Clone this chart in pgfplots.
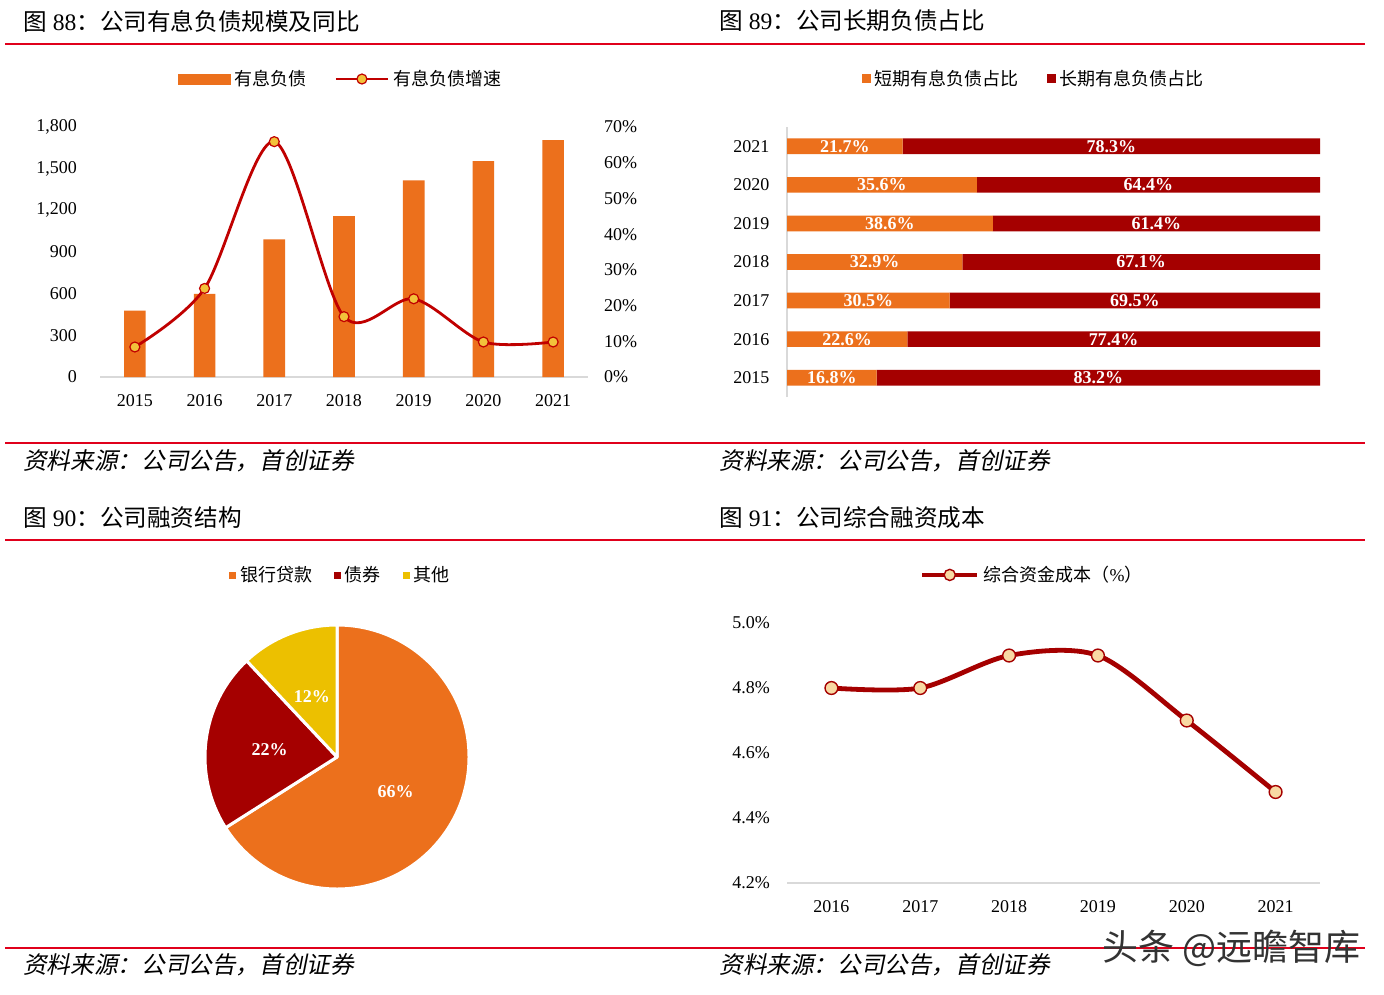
\documentclass[border=0pt]{standalone}
\usepackage{pgfplots}
\pgfplotsset{compat=1.18}
\usepackage{fontspec}
\setmainfont{Liberation Serif}
\newfontfamily\cjk{Noto Sans CJK SC}
\newfontfamily\cjkit[FakeSlant=0.2]{Noto Sans CJK SC}
\definecolor{myorange}{HTML}{EC701C}
\definecolor{mydark}{HTML}{A50000}
\definecolor{linered}{HTML}{C00000}
\definecolor{gold}{HTML}{F2C23A}
\definecolor{pieyellow}{HTML}{ECC000}
\definecolor{cream}{HTML}{F8D9A3}
\definecolor{rulered}{HTML}{E0001B}
\definecolor{axisgray}{HTML}{D9D9D9}
\newcommand{\tickfont}{\fontsize{9}{10}\selectfont}
\newcommand{\legfont}{\cjk\fontsize{9}{10}\selectfont}
\begin{document}
\begin{tikzpicture}
\begin{scope}[x=0.5pt,y=-0.5pt]
\fill[white] (0,0) rectangle (1384,994);
\path[use as bounding box] (0,0) rectangle (1384,994);
\foreach \yy in {44,443,540,948} {\draw[rulered, line width=1pt] (5,\yy) -- (1365,\yy);}
\node[anchor=west, inner sep=0pt, font=\fontsize{11.8}{12}\selectfont] at (23,21) {{\cjk 图} 88{\cjk ：公司有息负债规模及同比}};
\node[anchor=west, inner sep=0pt, font=\fontsize{11.8}{12}\selectfont] at (719,21) {{\cjk 图} 89{\cjk ：公司长期负债占比}};
\node[anchor=west, inner sep=0pt, font=\fontsize{11.8}{12}\selectfont] at (23,518) {{\cjk 图} 90{\cjk ：公司融资结构}};
\node[anchor=west, inner sep=0pt, font=\fontsize{11.8}{12}\selectfont] at (719,518) {{\cjk 图} 91{\cjk ：公司综合融资成本}};
\node[anchor=west, inner sep=0pt, font=\cjkit\fontsize{11.8}{12}\selectfont] at (23,461) {资料来源：公司公告，首创证券};
\node[anchor=west, inner sep=0pt, font=\cjkit\fontsize{11.8}{12}\selectfont] at (719,461) {资料来源：公司公告，首创证券};
\node[anchor=west, inner sep=0pt, font=\cjkit\fontsize{11.8}{12}\selectfont] at (23,965) {资料来源：公司公告，首创证券};
\node[anchor=west, inner sep=0pt, font=\cjkit\fontsize{11.8}{12}\selectfont] at (719,965) {资料来源：公司公告，首创证券};
\end{scope}

% ---------- Panel 1: bars ----------
\begin{axis}[
  at={(50pt,-188.5pt)}, anchor=south west,
  scale only axis, width=244pt, height=125pt,
  xmin=-0.5, xmax=6.5, ymin=0, ymax=1800,
  ytick={0,300,600,900,1200,1500,1800},
  xtick={0,1,2,3,4,5,6}, xticklabels={2015,2016,2017,2018,2019,2020,2021},
  axis x line*=bottom, axis y line*=left,
  x axis line style={draw=axisgray, line width=1pt, -},
  y axis line style={draw=none},
  major tick length=0pt,
  tick label style={font=\tickfont},
  /pgf/number format/assume math mode=true,
  /pgf/number format/1000 sep={,},
  yticklabel style={xshift=-8pt},
  xticklabel style={yshift=-5pt},
  ybar, bar width=10.8pt,
]
\addplot[fill=myorange, draw=none] coordinates {(0,478) (1,598) (2,991) (3,1159) (4,1416) (5,1555) (6,1706)};
\end{axis}
\begin{axis}[
  at={(50pt,-188.5pt)}, anchor=south west,
  scale only axis, width=244pt, height=125pt,
  xmin=-0.5, xmax=6.5, ymin=0, ymax=70,
  axis y line*=right, axis x line=none,
  y axis line style={draw=none},
  major tick length=0pt, xtick=\empty,
  ytick={0,10,20,30,40,50,60,70},
  yticklabel={\pgfmathprintnumber{\tick}\%},
  tick label style={font=\tickfont},
  /pgf/number format/assume math mode=true,
  yticklabel style={xshift=4.5pt},
  clip=false,
  legend style={at={(0.495,1.192)}, anchor=center, draw=none, fill=none, legend columns=-1, font=\legfont,
    /tikz/every even column/.append style={column sep=12pt}},
]
\addlegendimage{legend image code/.code={\fill[myorange] (0pt,-2.5pt) rectangle (26pt,2.5pt);}}
\addlegendentry{有息负债}
\addplot[linered, line width=1.4pt, smooth, mark=*, mark size=2.5pt,
  mark options={fill=gold, draw=linered, line width=0.6pt},
  legend image code/.code={\draw[linered, line width=1.4pt] (0pt,0pt) -- (26pt,0pt);
     \filldraw[fill=gold, draw=linered, line width=0.6pt] (13pt,0pt) circle (2.5pt);}]
  coordinates {(0,8.4) (1,24.8) (2,65.9) (3,16.9) (4,21.9) (5,9.8) (6,9.8)};
\addlegendentry{有息负债增速}
\end{axis}

% ---------- Panel 2: stacked horizontal bars ----------
\begin{axis}[
  at={(393.5pt,-198.5pt)}, anchor=south west,
  scale only axis, width=266.5pt, height=135pt,
  xbar stacked, bar width=7.85pt,
  xmin=0, xmax=100, ymin=-0.5, ymax=6.5,
  axis y line*=left, axis x line=none,
  y axis line style={draw=axisgray, line width=1pt, -},
  ytick={0,1,2,3,4,5,6}, yticklabels={2015,2016,2017,2018,2019,2020,2021},
  xtick=\empty,
  major tick length=0pt,
  tick label style={font=\tickfont},
  yticklabel style={xshift=-5.25pt},
  /pgf/number format/assume math mode=true,
  visualization depends on={rawx \as \rawx},
  nodes near coords={\pgfmathprintnumber[fixed,fixed zerofill,precision=1]{\rawx}\%},
  every node near coord/.append style={anchor=center, text=white, font=\bfseries\fontsize{9}{10}\selectfont},
  legend image code/.code={\fill[#1] (0pt,-2.25pt) rectangle (4.5pt,2.25pt);},
  legend style={at={(0.465,1.178)}, anchor=center, draw=none, fill=none, legend columns=-1, font=\legfont,
    /tikz/every even column/.append style={column sep=12pt}},
]
\addplot[fill=myorange, draw=none] coordinates {(16.8,0) (22.6,1) (30.5,2) (32.9,3) (38.6,4) (35.6,5) (21.7,6)};
\addlegendentry{短期有息负债占比}
\addplot[fill=mydark, draw=none] coordinates {(83.2,0) (77.4,1) (69.5,2) (67.1,3) (61.4,4) (64.4,5) (78.3,6)};
\addlegendentry{长期有息负债占比}
\end{axis}

% ---------- Panel 3: pie ----------
\begin{axis}[
  at={(168.5pt,-378.5pt)}, anchor=center,
  scale only axis, width=132pt, height=132pt,
  xmin=-1, xmax=1, ymin=-1, ymax=1,
  hide axis, clip=false,
  legend style={at={(0.517,1.189)}, anchor=center, draw=none, fill=none, legend columns=-1, font=\legfont,
    /tikz/every even column/.append style={column sep=9pt}},
]
\addlegendimage{legend image code/.code={\fill[myorange] (0pt,-1.5pt) rectangle (3pt,1.5pt);}}
\addlegendentry{银行贷款}
\addlegendimage{legend image code/.code={\fill[mydark] (0pt,-1.5pt) rectangle (3pt,1.5pt);}}
\addlegendentry{债券}
\addlegendimage{legend image code/.code={\fill[pieyellow] (0pt,-1.5pt) rectangle (3pt,1.5pt);}}
\addlegendentry{其他}
\filldraw[fill=myorange, draw=white, line width=1.5pt, line join=round] (axis cs:0,0) -- ++(90:66pt) arc[start angle=90, delta angle={-66*3.6}, radius=66pt] -- cycle;
\filldraw[fill=mydark, draw=white, line width=1.5pt, line join=round] (axis cs:0,0) -- ++({90-66*3.6}:66pt) arc[start angle={90-66*3.6}, delta angle={-22*3.6}, radius=66pt] -- cycle;
\filldraw[fill=pieyellow, draw=white, line width=1.5pt, line join=round] (axis cs:0,0) -- ++({90-88*3.6}:66pt) arc[start angle={90-88*3.6}, delta angle={-12*3.6}, radius=66pt] -- cycle;
\node[text=white, font=\bfseries\fontsize{9}{10}\selectfont] at (axis cs:0.445,-0.262) {66\%};
\node[text=white, font=\bfseries\fontsize{9}{10}\selectfont] at (axis cs:-0.51,0.053) {22\%};
\node[text=white, font=\bfseries\fontsize{9}{10}\selectfont] at (axis cs:-0.19,0.457) {12\%};
\end{axis}

% ---------- Panel 4: line ----------
\begin{axis}[
  at={(393.5pt,-441.5pt)}, anchor=south west,
  scale only axis, width=266.5pt, height=130pt,
  xmin=-0.5, xmax=5.5, ymin=4.2, ymax=5.0,
  ytick={4.2,4.4,4.6,4.8,5.0},
  yticklabel={\pgfmathprintnumber[fixed,fixed zerofill,precision=1]{\tick}\%},
  xtick={0,1,2,3,4,5}, xticklabels={2016,2017,2018,2019,2020,2021},
  axis x line*=bottom, axis y line*=left,
  x axis line style={draw=axisgray, line width=1pt, -},
  y axis line style={draw=none},
  major tick length=0pt,
  tick label style={font=\tickfont},
  /pgf/number format/assume math mode=true,
  yticklabel style={xshift=-5pt},
  xticklabel style={yshift=-5pt},
  clip=false,
  legend style={at={(0.462,1.185)}, anchor=center, draw=none, fill=none, legend columns=-1, font=\legfont},
]
\addplot[mydark, line width=2.4pt, smooth, mark=*, mark size=3.2pt,
  mark options={fill=cream, draw=mydark, line width=0.7pt},
  legend image code/.code={\draw[mydark, line width=2.4pt] (0pt,0pt) -- (27.5pt,0pt);
     \filldraw[fill=cream, draw=mydark, line width=0.7pt] (13.75pt,0pt) circle (2.8pt);}]
  coordinates {(0,4.80) (1,4.80) (2,4.90) (3,4.90) (4,4.70) (5,4.48)};
\addlegendentry{综合资金成本（{\fontspec{Liberation Serif}\%}）}
\end{axis}

\begin{scope}[x=0.5pt,y=-0.5pt]
\node[anchor=west, inner sep=0pt, text=black!80, font=\cjk\fontsize{18}{18}\selectfont] at (1102,948) {头条 @远瞻智库};
\end{scope}
\end{tikzpicture}
\end{document}
